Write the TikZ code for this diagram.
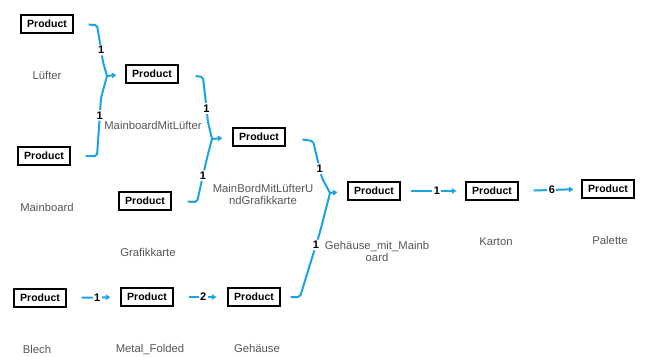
\documentclass[tikz,border=0pt]{standalone}
\usepackage{fontspec}
\setmainfont{Liberation Sans}
\usetikzlibrary{positioning,shadows,arrows.meta}
\definecolor{linkblue}{RGB}{27,163,226}
\definecolor{partgray}{RGB}{85,85,85}
\begin{document}
\begin{tikzpicture}[x=1pt, y=-1pt, node distance={35pt},
  prod/.style = {draw, line width=1.3pt, fill=white, minimum width=52pt, minimum height=18pt, inner sep=1pt,
                 font=\fontsize{10.5}{11}\selectfont\bfseries,
                 drop shadow={shadow xshift=1.2pt, shadow yshift=-1.2pt, opacity=0.45}},
  partname/.style = {text=partgray, font=\fontsize{11.3}{12.5}\selectfont, anchor=north, align=center, inner sep=2pt},
  conn/.style = {linkblue, line width=2pt, rounded corners=2pt},
  arrowlink/.style = {linkblue, line width=2pt, -{Triangle[length=4.5pt,width=5.5pt]}},
  qty/.style = {fill=white, text=black, inner sep=1.5pt, font=\fontsize{11}{11}\selectfont\bfseries}]
  \useasboundingbox (0,0) rectangle (647,356);

  % parts
  \node[prod] (luefter) at (47,24) {Product};
  \node[prod] (mainboard) at (44,156) {Product};
  \node[prod] (mml) at (152,74) {Product};
  \node[prod] (grafik) at (145,201) {Product};
  \node[prod] (mmlug) at (259,137) {Product};
  \node[prod] (gmm) at (374,191) {Product};
  \node[prod] (karton) at (492,191) {Product};
  \node[prod] (palette) at (608,189) {Product};
  \node[prod] (blech) at (40,298) {Product};
  \node[prod] (folded) at (147,297) {Product};
  \node[prod] (gehaeuse) at (254,297) {Product};

  % part names
  \node[partname, below=of luefter] (luefterN) {Lüfter};
  \node[partname, below=of mainboard, xshift=3pt] (mainboardN) {Mainboard};
  \node[partname, below=of mml, xshift=1pt] (mmlN) {MainboardMitLüfter};
  \node[partname, below=of grafik, xshift=3pt] (grafikN) {Grafikkarte};
  \node[partname, below=of mmlug, xshift=4pt] (mmlugN) {MainBordMitLüfterU\\ndGrafikkarte};
  \node[partname, below=of gmm, xshift=3pt, yshift=-3pt] (gmmN) {Gehäuse\_mit\_Mainb\\oard};
  \node[partname, below=of karton, xshift=4pt] (kartonN) {Karton};
  \node[partname, below=of palette, xshift=2pt] (paletteN) {Palette};
  \node[partname, below=of blech, xshift=-3pt] (blechN) {Blech};
  \node[partname, below=of folded, xshift=3pt] (foldedN) {Metal\_Folded};
  \node[partname, below=of gehaeuse, xshift=3pt] (gehaeuseN) {Gehäuse};

  % merge points
  \coordinate (m1) at (107,76);
  \coordinate (m2) at (212,139);
  \coordinate (m3) at (330,193);

  \draw[conn, shorten <=15pt] (luefter.east) -- (97,25) -- node[qty, pos=0.68] {1} (103,62) -- (m1);
  \draw[conn, shorten <=15pt] (mainboard.east) -- (97,156) -- node[qty, pos=0.7] {1} (101,98) -- (m1);
  \draw[arrowlink, shorten >=9pt] (m1) -- (mml.west);

  \draw[conn, shorten <=17pt] (mml.east) -- (203,77) -- node[qty, pos=0.7] {1} (208,122) -- (m2);
  \draw[conn, shorten <=16pt] (grafik.east) -- (197,202) -- node[qty, pos=0.6] {1} (207,158) -- (m2);
  \draw[arrowlink, shorten >=10pt] (m2) -- (mmlug.west);

  \draw[conn, shorten <=17pt] (mmlug.east) -- (313,141) -- node[qty, pos=0.75] {1} (322,178) -- (m3);
  \draw[conn, shorten <=10pt] (gehaeuse.east) -- (300,297) -- node[qty, pos=0.8] {1} (320,232) -- (m3);
  \draw[arrowlink, shorten >=10pt] (m3) -- (gmm.west);

  \draw[arrowlink, shorten <=10pt, shorten >=9pt] (gmm.east) -- node[qty, pos=0.56] {1} (karton.west);
  \draw[arrowlink, shorten <=15pt, shorten >=8pt] (karton.east) -- node[qty, pos=0.53] {6} (palette.west);
  \draw[arrowlink, shorten <=15pt, shorten >=10pt] (blech.east) -- node[qty, pos=0.57] {1} (folded.west);
  \draw[arrowlink, shorten <=15pt, shorten >=11pt] (folded.east) -- node[qty, pos=0.55] {2} (gehaeuse.west);
\end{tikzpicture}
\end{document}
